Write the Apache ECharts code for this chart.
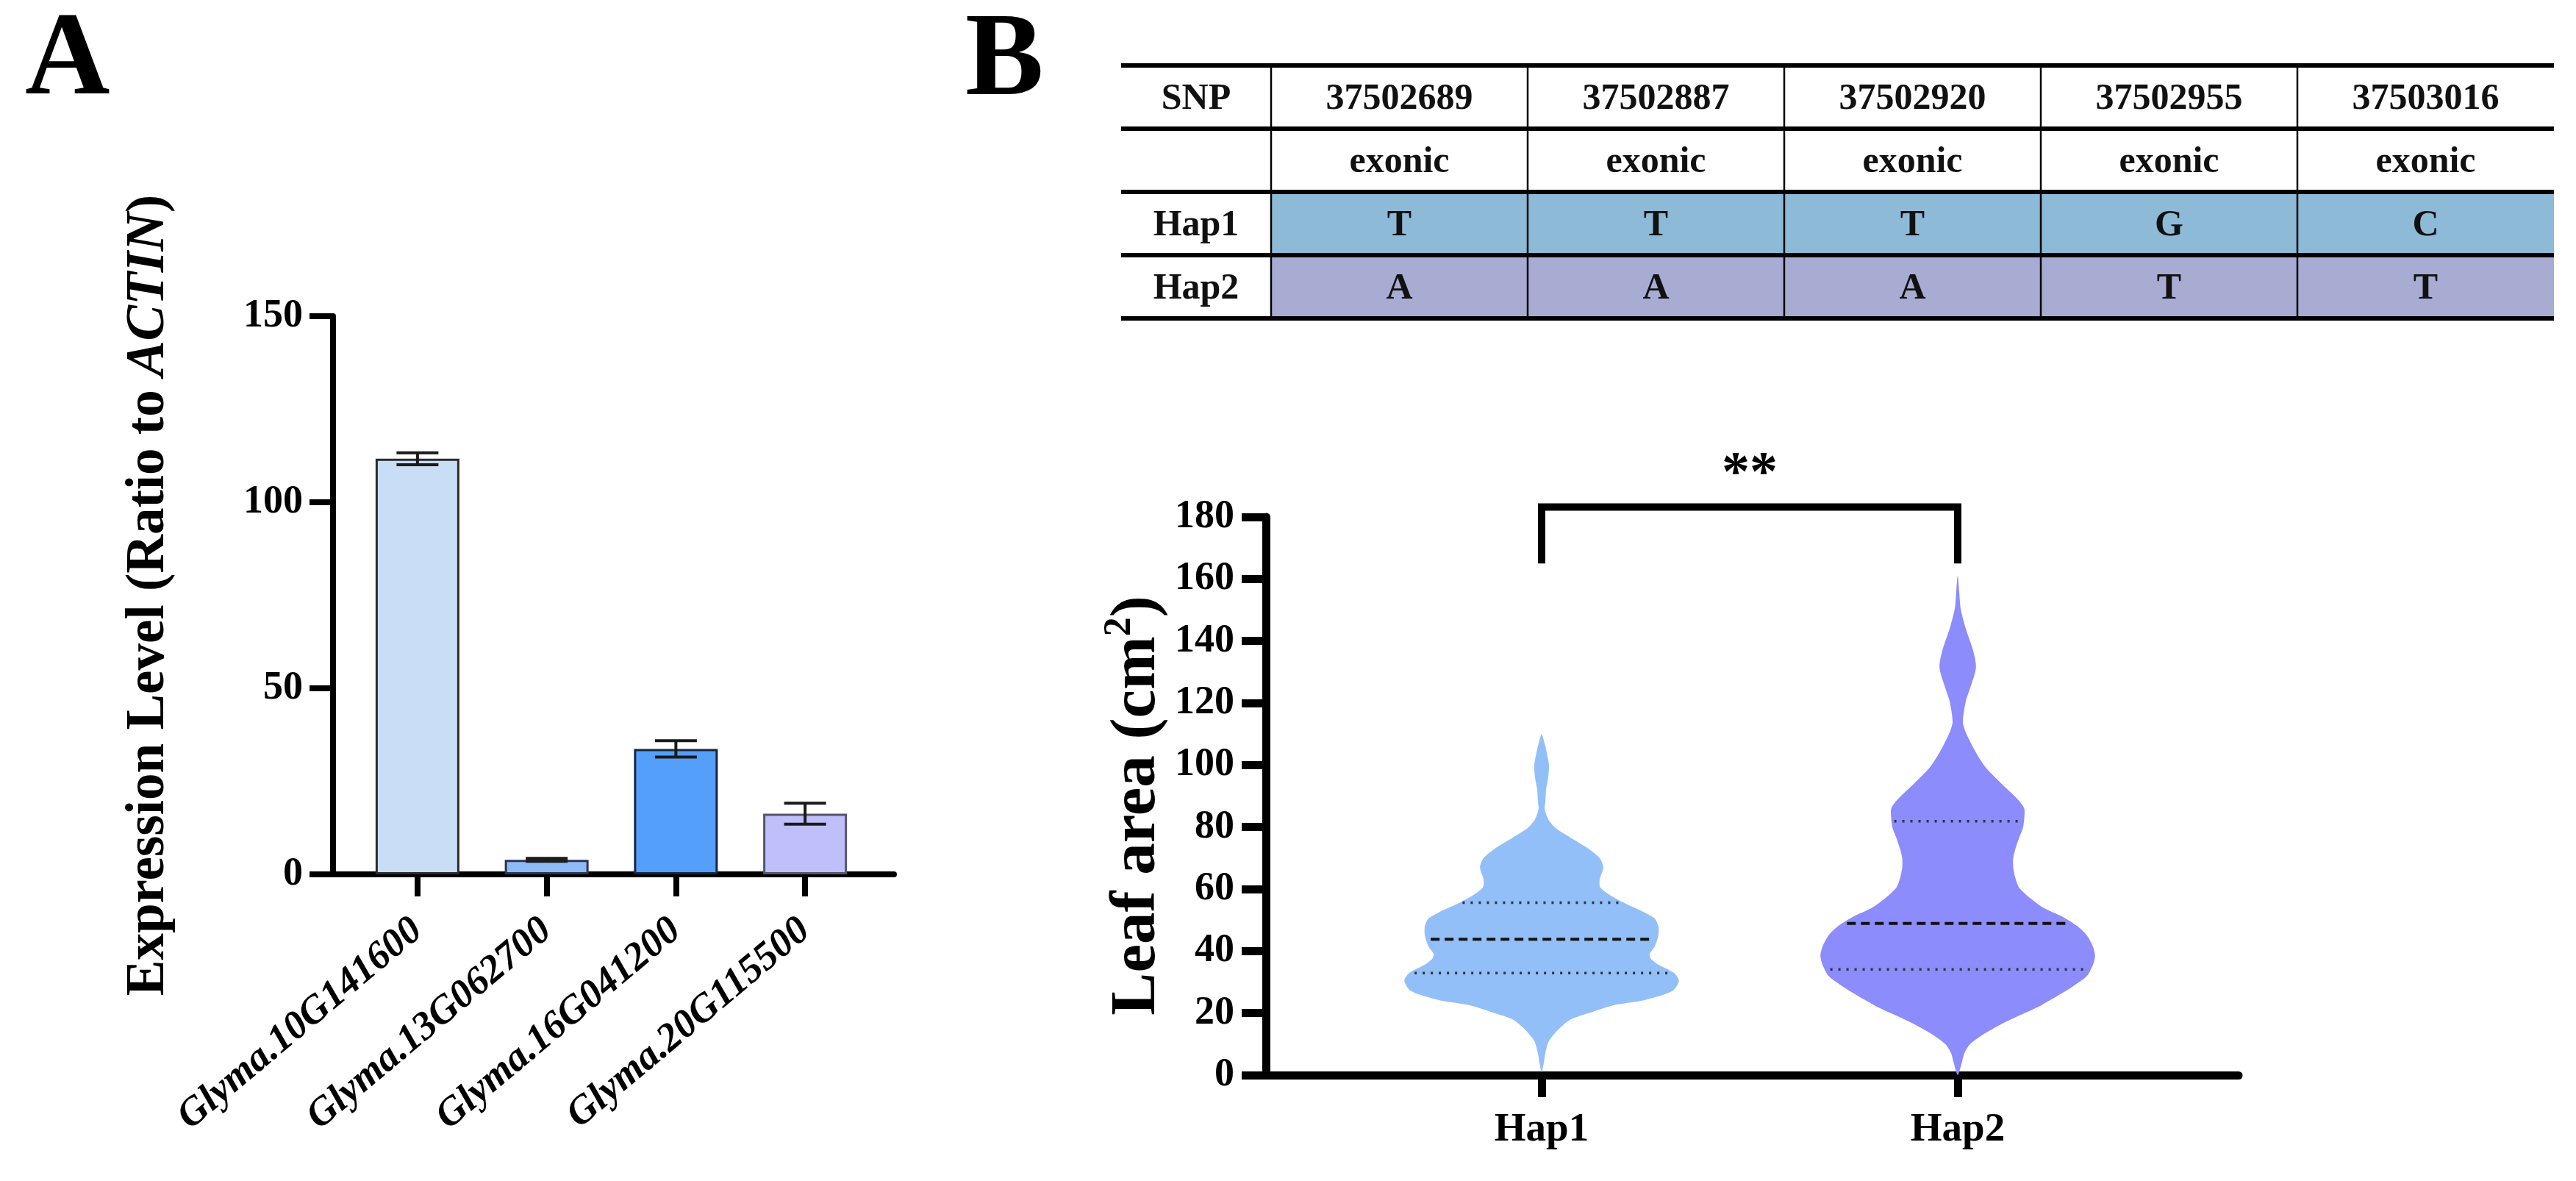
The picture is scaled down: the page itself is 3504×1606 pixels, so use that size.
<!DOCTYPE html>
<html>
<head>
<meta charset="utf-8">
<script src="https://cdn.jsdelivr.net/npm/echarts@6/dist/echarts.min.js"></script>
<style>
html,body{margin:0;padding:0;background:#ffffff;}
#chart{width:3504px;height:1606px;}
</style>
</head>
<body>
<div id="chart"></div>
<script>
// ---------------- DATA ----------------
// Panel A: qRT-PCR expression
const genes = ['Glyma.10G141600', 'Glyma.13G062700', 'Glyma.16G041200', 'Glyma.20G115500'];
const expressionMean = [111.7, 3.9, 33.7, 16.3];
const expressionErr = [1.6, 0.4, 2.2, 2.8];
const expressionTicks = [0, 50, 100, 150];

// Panel B: haplotype table
const snpPositions = ['37502689', '37502887', '37502920', '37502955', '37503016'];
const snpRegions = ['exonic', 'exonic', 'exonic', 'exonic', 'exonic'];
const hap1Alleles = ['T', 'T', 'T', 'G', 'C'];
const hap2Alleles = ['A', 'A', 'A', 'T', 'T'];
const tableRowHeaders = ['SNP', '', 'Hap1', 'Hap2'];

// Panel B: violin plot of leaf area
const haplotypes = ['Hap1', 'Hap2'];
const leafAreaTicks = [0, 20, 40, 60, 80, 100, 120, 140, 160, 180];
const hap1Levels = [1, 4, 7, 11, 15, 18, 20, 22.5, 24, 26, 27.5, 30.5, 33, 35.5, 37.5, 39, 41.5, 45, 48, 50.5, 52.5, 55, 57.5, 60.5, 63, 67, 70, 73, 76.5, 79.5, 82.5, 86, 88, 92, 96, 100, 104, 107, 110];
const hap1Density = [0, 3, 5, 10, 24, 40, 64, 97, 137, 167, 180, 187, 180, 160, 149, 147, 154, 159, 159, 154, 140, 117, 97, 80, 79, 84, 79, 64, 40, 20, 9, 4, 5, 6, 9, 10, 7, 4, 0];
const hap2Levels = [0, 3.5, 7, 10, 13, 16.5, 19.5, 22.5, 26, 29, 32, 35.5, 38.5, 41.5, 45, 48, 51, 54, 57.5, 60.5, 63.5, 67, 70, 73, 76.5, 79.5, 82.5, 86, 89, 94, 99, 104, 110.5, 114, 120.5, 125.5, 131.5, 137, 144, 150.5, 156, 161];
const hap2Density = [0, 5, 9, 17, 34, 60, 87, 114, 140, 160, 177, 185, 188, 185, 177, 164, 144, 117, 97, 84, 79, 76, 76, 79, 84, 89, 91, 91, 82, 60, 39, 25, 11, 7, 11, 18, 25, 21, 11, 4, 2, 0];
const hap1Quartiles = [32.9, 43.8, 55.6];   // Q1, median, Q3
const hap2Quartiles = [34.1, 48.9, 81.9];
const significanceLabel = '**';
const bracketLegValue = 165;
const bracketTopValue = 183.2;
const bracketLabelValue = 193.5;

// ---------------- STYLE / LAYOUT ----------------
const FONT = 'Liberation Serif';
const barColors = ['#C9DDF6', '#8DBBF6', '#549FFA', '#BFBFFC'];
const barBorders = ['#2b2b2b', '#2b3550', '#14263f', '#55556a'];
const violinColors = ['#93BFF8', '#8C8CFC'];
const tableRowFills = [null, null, '#8DBAD6', '#A8ACD3'];
const tableColWidths = [204, 349, 349, 349, 349, 349];

// ---------------- BUILD ----------------
const tableRows = [
  [tableRowHeaders[0]].concat(snpPositions),
  [tableRowHeaders[1]].concat(snpRegions),
  [tableRowHeaders[2]].concat(hap1Alleles),
  [tableRowHeaders[3]].concat(hap2Alleles)
];
const colEdges = [0];
tableColWidths.forEach(w => colEdges.push(colEdges[colEdges.length - 1] + w));
const tableCells = [];
tableRows.forEach((r, ri) => r.forEach((t, ci) => tableCells.push([ci, ri])));

const violins = [
  {levels: hap1Levels, density: hap1Density, quart: hap1Quartiles, color: violinColors[0]},
  {levels: hap2Levels, density: hap2Density, quart: hap2Quartiles, color: violinColors[1]}
];
const VIOLIN_HALF = 0.33;

function densityAt(g, v) {
  const L = g.levels, D = g.density;
  for (let i = 0; i < L.length - 1; i++) {
    if (v >= L[i] && v <= L[i + 1]) {
      const t = (v - L[i]) / (L[i + 1] - L[i]);
      return D[i] + t * (D[i + 1] - D[i]);
    }
  }
  return 0;
}

function renderViolin(params, api) {
  const idx = api.value(0);
  const g = violins[idx];
  const band = api.size([1, 0])[0];
  const maxHalf = band * VIOLIN_HALF;
  const dmax = Math.max.apply(null, g.density);
  const cx = api.coord([idx, 0])[0];
  const pts = [];
  for (let i = 0; i < g.levels.length; i++) {
    const y = api.coord([idx, g.levels[i]])[1];
    pts.push([cx - g.density[i] / dmax * maxHalf, y]);
  }
  for (let i = g.levels.length - 1; i >= 0; i--) {
    if (g.density[i] > 0) {
      const y = api.coord([idx, g.levels[i]])[1];
      pts.push([cx + g.density[i] / dmax * maxHalf, y]);
    }
  }
  return {type: 'polygon', shape: {points: pts, smooth: 0.25}, style: {fill: g.color}};
}

const quartileItems = [];
violins.forEach((g, gi) => g.quart.forEach((q, qi) => quartileItems.push([gi, q, qi === 1 ? 1 : 0])));

function renderQuartile(params, api) {
  const gi = api.value(0), v = api.value(1), isMedian = api.value(2) === 1;
  const g = violins[gi];
  const band = api.size([1, 0])[0];
  const dmax = Math.max.apply(null, g.density);
  const hw = densityAt(g, v) / dmax * band * VIOLIN_HALF * 0.96;
  const p = api.coord([gi, v]);
  return {
    type: 'line',
    shape: {x1: p[0] - hw, y1: p[1], x2: p[0] + hw, y2: p[1]},
    style: isMedian
      ? {stroke: '#111', lineWidth: 4, lineDash: [12, 7]}
      : {stroke: '#333', lineWidth: 3.5, lineDash: [3, 8]}
  };
}

function renderBracket(params, api) {
  const a = api.coord([0, bracketLegValue]);
  const b = api.coord([0, bracketTopValue]);
  const c = api.coord([1, bracketTopValue]);
  const d = api.coord([1, bracketLegValue]);
  const lab = api.coord([0, bracketLabelValue]);
  const mid = (a[0] + d[0]) / 2;
  return {
    type: 'group',
    children: [
      {type: 'polyline', shape: {points: [a, b, c, d]}, style: {stroke: '#000', lineWidth: 10, fill: null, lineJoin: 'miter'}},
      {type: 'text', x: mid, y: lab[1], style: {text: significanceLabel, font: 'bold 76px "' + FONT + '"', fill: '#000', align: 'center', verticalAlign: 'middle'}}
    ]
  };
}

function renderErrorBar(params, api) {
  const i = api.value(0), m = api.value(1), e = api.value(2);
  const top = api.coord([i, m + e]);
  const bot = api.coord([i, m - e]);
  const cap = 57;
  const st = {stroke: '#1a1a1a', lineWidth: 4};
  return {
    type: 'group',
    children: [
      {type: 'line', shape: {x1: top[0], y1: top[1], x2: bot[0], y2: bot[1]}, style: st},
      {type: 'line', shape: {x1: top[0] - cap / 2, y1: top[1], x2: top[0] + cap / 2, y2: top[1]}, style: st},
      {type: 'line', shape: {x1: bot[0] - cap / 2, y1: bot[1], x2: bot[0] + cap / 2, y2: bot[1]}, style: st}
    ]
  };
}

function renderCell(params, api) {
  const col = api.value(0), row = api.value(1);
  const p0 = api.coord([colEdges[col], row]);
  const p1 = api.coord([colEdges[col + 1], row + 1]);
  const x = Math.min(p0[0], p1[0]), y = Math.min(p0[1], p1[1]);
  const w = Math.abs(p1[0] - p0[0]), h = Math.abs(p1[1] - p0[1]);
  const fill = (col > 0 && tableRowFills[row]) ? tableRowFills[row] : '#ffffff';
  const children = [
    {type: 'rect', shape: {x: x, y: y, width: w, height: h}, style: {fill: fill}},
    {type: 'text', x: x + w / 2, y: y + h / 2 + 3, style: {text: tableRows[row][col], font: 'bold 50px "' + FONT + '"', fill: '#111', align: 'center', verticalAlign: 'middle'}},
    {type: 'line', shape: {x1: x, y1: y, x2: x + w, y2: y}, style: {stroke: '#000', lineWidth: 6}, z2: 5},
    {type: 'line', shape: {x1: x, y1: y + h, x2: x + w, y2: y + h}, style: {stroke: '#000', lineWidth: 6}, z2: 5}
  ];
  if (col > 0) {
    children.push({type: 'line', shape: {x1: x, y1: y, x2: x, y2: y + h}, style: {stroke: '#000', lineWidth: 2.5}, z2: 4});
  }
  return {type: 'group', children: children};
}

const chart = echarts.init(document.getElementById('chart'));

const option = {
  backgroundColor: '#ffffff',
  animation: false,
  title: [
    {text: 'A', left: 34, top: 6, padding: 0, textStyle: {fontFamily: FONT, fontWeight: 'bold', fontSize: 160, color: '#000'}},
    {text: 'B', left: 1313, top: 7, padding: 0, textStyle: {fontFamily: FONT, fontWeight: 'bold', fontSize: 160, color: '#000'}}
  ],
  grid: [
    {left: 453, top: 430, width: 763, height: 759},
    {left: 480, top: 430, width: 703, height: 759},
    {left: 1722, top: 703, width: 1323, height: 759},
    {left: 1814, top: 703, width: 1132, height: 759},
    {left: 1525, top: 89, width: 1949, height: 344}
  ],
  xAxis: [
    {gridIndex: 0, type: 'value', min: 0, max: 1,
     axisLine: {show: true, lineStyle: {color: '#000', width: 8}},
     axisTick: {show: false}, axisLabel: {show: false}, splitLine: {show: false}},
    {gridIndex: 1, type: 'category', data: genes, boundaryGap: true,
     axisLine: {show: false},
     axisTick: {show: true, alignWithLabel: true, length: 30, lineStyle: {color: '#000', width: 8}},
     axisLabel: {rotate: 40, margin: 70, fontFamily: FONT, fontWeight: 'bold', fontStyle: 'italic', fontSize: 54, color: '#000', interval: 0},
     splitLine: {show: false}},
    {gridIndex: 2, type: 'value', min: 0, max: 1,
     axisLine: {show: true, lineStyle: {color: '#000', width: 11}},
     axisTick: {show: false}, axisLabel: {show: false}, splitLine: {show: false}},
    {gridIndex: 3, type: 'category', data: haplotypes, boundaryGap: true,
     axisLine: {show: false},
     axisTick: {show: true, alignWithLabel: true, length: 30, lineStyle: {color: '#000', width: 11}},
     axisLabel: {margin: 47, fontFamily: FONT, fontWeight: 'bold', fontSize: 55, color: '#000'},
     splitLine: {show: false}},
    {gridIndex: 4, type: 'value', min: 0, max: colEdges[colEdges.length - 1], show: false}
  ],
  yAxis: [
    {gridIndex: 0, type: 'value', min: expressionTicks[0], max: expressionTicks[expressionTicks.length - 1], interval: 50,
     name: '{n|Expression Level (Ratio to }{i|ACTIN}{n|)}', nameLocation: 'middle', nameGap: 212,
     nameTextStyle: {rich: {
       n: {fontFamily: FONT, fontWeight: 'bold', fontSize: 73, color: '#000', lineHeight: 76},
       i: {fontFamily: FONT, fontWeight: 'bold', fontStyle: 'italic', fontSize: 73, color: '#000', lineHeight: 76}
     }},
     axisLine: {show: true, lineStyle: {color: '#000', width: 8}},
     axisTick: {show: true, length: 32, lineStyle: {color: '#000', width: 8}},
     axisLabel: {margin: 41, fontFamily: FONT, fontWeight: 'bold', fontSize: 54, color: '#000'},
     splitLine: {show: false}},
    {gridIndex: 1, type: 'value', min: expressionTicks[0], max: expressionTicks[expressionTicks.length - 1], show: false},
    {gridIndex: 2, type: 'value', min: leafAreaTicks[0], max: leafAreaTicks[leafAreaTicks.length - 1], interval: 20,
     name: '{n|Leaf area (cm}{s|2}{n|)}', nameLocation: 'middle', nameGap: 124,
     nameTextStyle: {padding: [0, 26, 0, 0], rich: {
       n: {fontFamily: FONT, fontWeight: 'bold', fontSize: 87, color: '#000', lineHeight: 100},
       s: {fontFamily: FONT, fontWeight: 'bold', fontSize: 52, color: '#000', lineHeight: 44, verticalAlign: 'top'}
     }},
     axisLine: {show: true, lineStyle: {color: '#000', width: 11}},
     axisTick: {show: true, length: 33, lineStyle: {color: '#000', width: 11}},
     axisLabel: {margin: 43, fontFamily: FONT, fontWeight: 'bold', fontSize: 54, color: '#000'},
     splitLine: {show: false}},
    {gridIndex: 3, type: 'value', min: leafAreaTicks[0], max: leafAreaTicks[leafAreaTicks.length - 1], show: false},
    {gridIndex: 4, type: 'value', min: 0, max: tableRows.length, inverse: true, show: false}
  ],
  series: [
    {type: 'bar', xAxisIndex: 1, yAxisIndex: 1, barWidth: 114,
     data: expressionMean.map((v, i) => ({value: v, itemStyle: {color: barColors[i], borderColor: barBorders[i], borderWidth: 3}})),
     z: 3},
    {type: 'custom', xAxisIndex: 1, yAxisIndex: 1, renderItem: renderErrorBar,
     data: expressionMean.map((v, i) => [i, v, expressionErr[i]]), z: 4},
    {type: 'custom', xAxisIndex: 3, yAxisIndex: 3, renderItem: renderViolin,
     data: haplotypes.map((h, i) => [i]), encode: {x: 0}, z: 3},
    {type: 'custom', xAxisIndex: 3, yAxisIndex: 3, renderItem: renderQuartile,
     data: quartileItems, encode: {x: 0, y: 1}, z: 4},
    {type: 'custom', xAxisIndex: 3, yAxisIndex: 3, renderItem: renderBracket, clip: false,
     data: [[0, bracketTopValue]], encode: {x: 0, y: 1}, z: 5},
    {type: 'custom', xAxisIndex: 4, yAxisIndex: 4, renderItem: renderCell,
     data: tableCells, encode: {x: 0, y: 1}, z: 3}
  ]
};
chart.setOption(option);
</script>
</body>
</html>
